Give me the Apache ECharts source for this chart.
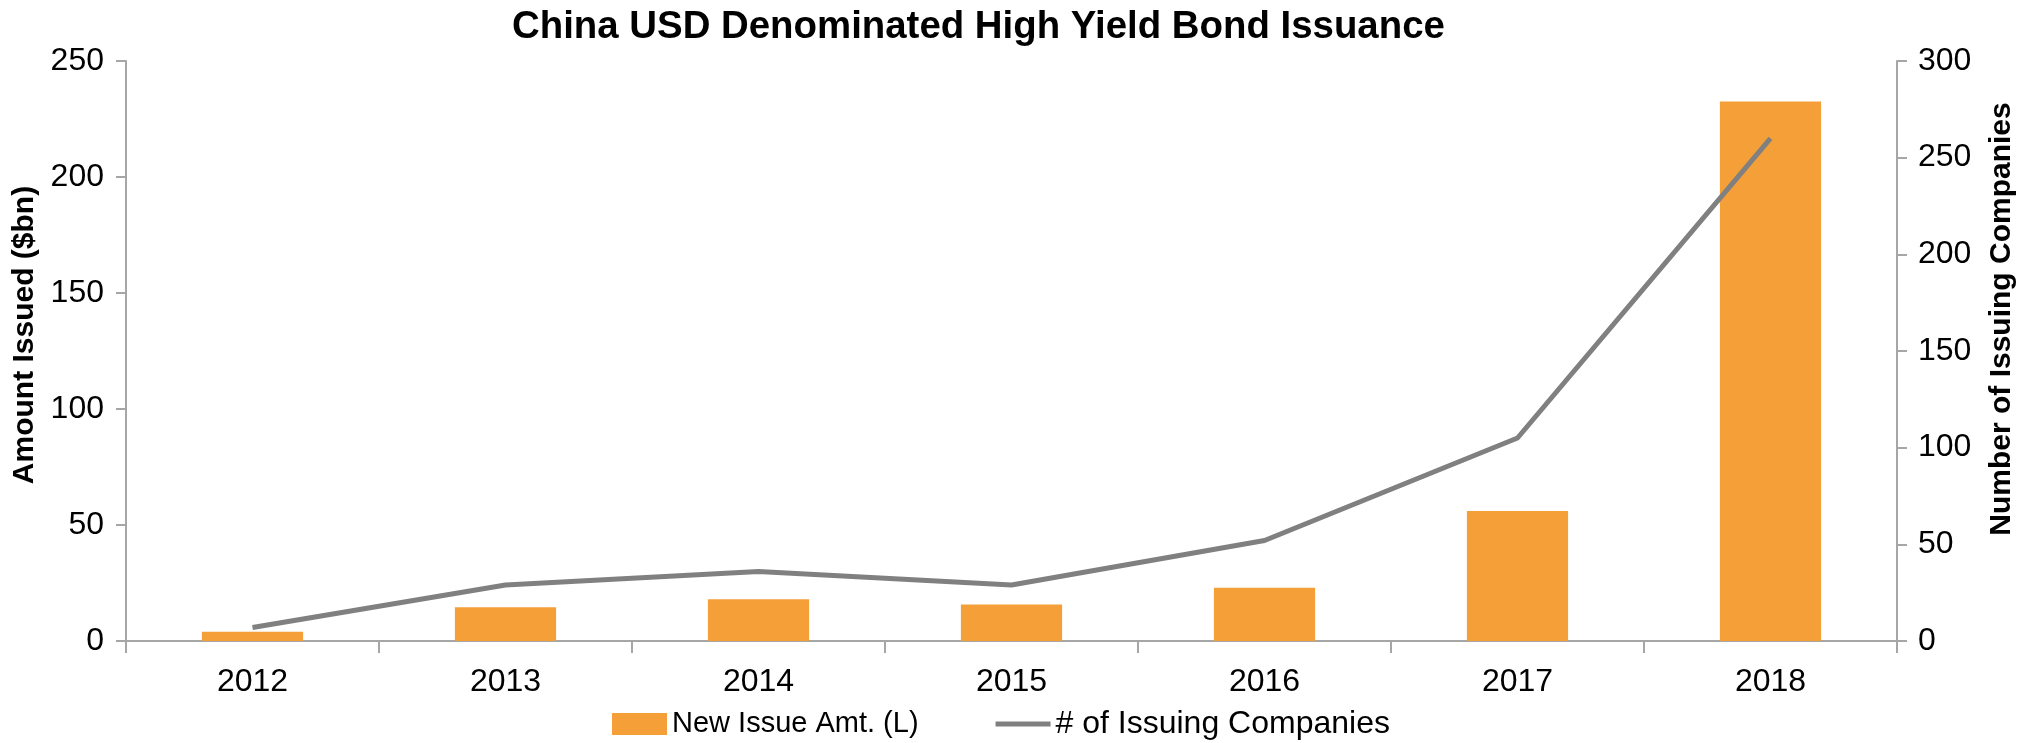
<!DOCTYPE html>
<html>
<head>
<meta charset="utf-8">
<script src="https://cdn.jsdelivr.net/npm/echarts@6/dist/echarts.min.js"></script>
<style>
  html, body { margin: 0; padding: 0; background: #fff; }
  #chart { width: 2036px; height: 743px; }
</style>
</head>
<body>
<div id="chart"></div>
<script>
const years = ['2012', '2013', '2014', '2015', '2016', '2017', '2018'];
const issueAmt = [4, 14.5, 18, 15.7, 23, 56, 232.5];
const issuers = [7, 29, 36, 29, 52, 105, 260];

const font = '"Liberation Sans", Arial, sans-serif';
const axisGray = '#A6A6A6';

const chart = echarts.init(document.getElementById('chart'), null, { renderer: 'canvas' });

chart.setOption({
  animation: false,
  textStyle: { fontFamily: font, color: '#000' },
  title: {
    text: 'China USD Denominated High Yield Bond Issuance',
    left: 507,
    top: 3,
    textStyle: { fontFamily: font, fontSize: 38.4, fontWeight: 'bold', color: '#000' }
  },
  legend: {
    bottom: -2,
    left: 607,
    itemGap: 77,
    itemWidth: 55,
    itemHeight: 22,
    textStyle: { fontFamily: font, fontSize: 31, color: '#000' },
    data: [
      { name: 'New Issue Amt. (L)', icon: 'rect', textStyle: { fontSize: 29 } },
      {
        name: '# of Issuing Companies',
        // thin stripe, padded so the bbox keeps the full item size
        icon: 'path://M0,0L0,0ZM55,22L55,22ZM0,8.5H55V13.5H0Z',
        itemStyle: { color: '#808080' },
        textStyle: { fontSize: 32 }
      }
    ]
  },
  grid: { left: 126, right: 139, top: 61, bottom: 102, outerBoundsMode: 'none', containLabel: false },
  xAxis: {
    type: 'category',
    data: years,
    axisLine: { lineStyle: { color: axisGray, width: 2 } },
    axisTick: { show: true, length: 12, lineStyle: { color: axisGray, width: 2 } },
    axisLabel: { fontSize: 32, color: '#000', margin: 25, fontFamily: font }
  },
  yAxis: [
    {
      type: 'value',
      min: 0, max: 250, interval: 50,
      name: 'Amount Issued ($bn)',
      nameLocation: 'middle',
      nameGap: 86,
      nameTextStyle: { fontSize: 30, fontWeight: 'bold', color: '#000', fontFamily: font, padding: [0, 0, 0, 32] },
      axisLine: { show: true, lineStyle: { color: axisGray, width: 2 } },
      axisTick: { show: true, length: 10, lineStyle: { color: axisGray, width: 2 } },
      axisLabel: { fontSize: 32, color: '#000', margin: 22, fontFamily: font },
      splitLine: { show: false }
    },
    {
      type: 'value',
      min: 0, max: 300, interval: 50,
      name: 'Number of Issuing Companies',
      nameLocation: 'middle',
      nameGap: 90,
      nameRotate: 90,
      nameTextStyle: { fontSize: 30, fontWeight: 'bold', color: '#000', fontFamily: font, padding: [0, 0, 0, 64] },
      axisLine: { show: true, lineStyle: { color: axisGray, width: 2 } },
      axisTick: { show: true, length: 10, lineStyle: { color: axisGray, width: 2 } },
      axisLabel: { fontSize: 32, color: '#000', margin: 21, fontFamily: font },
      splitLine: { show: false }
    }
  ],
  series: [
    {
      name: 'New Issue Amt. (L)',
      type: 'bar',
      yAxisIndex: 0,
      data: issueAmt,
      barWidth: '40%',
      itemStyle: { color: '#F49F38' }
    },
    {
      name: '# of Issuing Companies',
      type: 'line',
      yAxisIndex: 1,
      data: issuers,
      symbol: 'none',
      lineStyle: { color: '#808080', width: 5 },
      itemStyle: { color: '#808080' }
    }
  ]
});
</script>
</body>
</html>
